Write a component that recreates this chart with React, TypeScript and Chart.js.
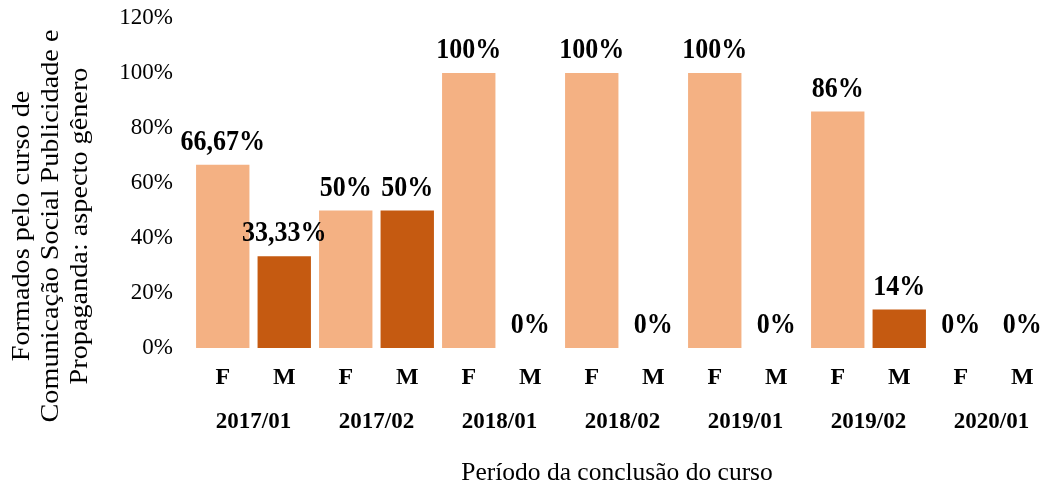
import React, { useEffect, useRef } from 'react';
import { Chart, registerables } from 'chart.js';

Chart.register(...registerables);

// ---- Data ----
const periods = ['2017/01', '2017/02', '2018/01', '2018/02', '2019/01', '2019/02', '2020/01'];
const sexLabels = ['F', 'M'];
const femaleValues = [66.67, 50, 100, 100, 100, 86, 0];
const maleValues = [33.33, 50, 0, 0, 0, 14, 0];
const yMin = 0;
const yMax = 120;
const yStep = 20;
const yTitleLines = [
  'Formados pelo curso de',
  'Comunicação Social Publicidade e',
  'Propaganda: aspecto gênero',
];
const xTitle = 'Período da conclusão do curso';

const FONT = '"Liberation Serif", "Times New Roman", serif';
const COLOR_F = '#F4B183';
const COLOR_M = '#C55A11';

const fmtPct = (v: number) =>
  (Number.isInteger(v) ? String(v) : v.toFixed(2).replace('.', ',')) + '%';

const noPad = (s: any) => {
  s.paddingTop = 0;
  s.paddingBottom = 0;
  s.paddingLeft = 0;
  s.paddingRight = 0;
};

export default function App() {
  const ref = useRef<HTMLCanvasElement>(null);

  useEffect(() => {
    const canvas = ref.current!;
    const sexTickLabels = periods.flatMap(() => sexLabels);

    const valueLabels = {
      id: 'valueLabels',
      afterDatasetsDraw(chart: any) {
        const ctx = chart.ctx as CanvasRenderingContext2D;
        ctx.save();
        ctx.font = `bold 26px ${FONT}`;
        ctx.fillStyle = '#000';
        ctx.textAlign = 'center';
        ctx.textBaseline = 'alphabetic';
        chart.data.datasets.forEach((ds: any, i: number) => {
          const meta = chart.getDatasetMeta(i);
          meta.data.forEach((el: any, j: number) => {
            const v = ds.data[j] as number;
            ctx.save();
            ctx.translate(el.x, el.y - 15);
            ctx.scale(1, 1.1);
            ctx.fillText(fmtPct(v), 0, 0);
            ctx.restore();
          });
        });
        ctx.restore();
      },
    };

    const axisTitles = {
      id: 'axisTitles',
      afterDraw(chart: any) {
        const ctx = chart.ctx as CanvasRenderingContext2D;
        ctx.save();
        ctx.fillStyle = '#000';
        ctx.font = `26px ${FONT}`;
        ctx.textAlign = 'center';
        ctx.textBaseline = 'middle';
        const sx = 393 / ctx.measureText(yTitleLines[1]).width;
        const xs = [22, 51, 80];
        yTitleLines.forEach((line, i) => {
          ctx.save();
          ctx.translate(xs[i], 226);
          ctx.rotate(-Math.PI / 2);
          ctx.scale(sx, 1);
          ctx.fillText(line, 0, 0);
          ctx.restore();
        });
        ctx.font = `25.5px ${FONT}`;
        ctx.textBaseline = 'alphabetic';
        ctx.fillText(xTitle, 617, 480);
        ctx.restore();
      },
    };

    const chart = new Chart(canvas, {
      type: 'bar',
      data: {
        labels: periods,
        datasets: [
          {
            label: 'F',
            data: femaleValues,
            backgroundColor: COLOR_F,
            borderWidth: 0,
            xAxisID: 'x',
            categoryPercentage: 1,
            barPercentage: 0.868,
          },
          {
            label: 'M',
            data: maleValues,
            backgroundColor: COLOR_M,
            borderWidth: 0,
            xAxisID: 'x',
            categoryPercentage: 1,
            barPercentage: 0.868,
          },
        ],
      },
      options: {
        responsive: false,
        animation: false,
        layout: { padding: { top: 18, right: 7, left: 0, bottom: 0 } },
        plugins: {
          legend: { display: false },
          tooltip: { enabled: false },
        },
        scales: {
          x: {
            type: 'category',
            axis: 'x',
            position: 'bottom',
            weight: 1,
            offset: true,
            grid: { display: false, drawTicks: false },
            border: { display: false },
            ticks: {
              font: { family: FONT, size: 23, weight: 'bold' },
              color: '#000',
              padding: 12,
              autoSkip: false,
              maxRotation: 0,
            },
            afterFit(s: any) {
              s.height = 93;
              noPad(s);
            },
          },
          xSex: {
            type: 'category',
            axis: 'x',
            labels: sexTickLabels,
            position: 'bottom',
            weight: 0,
            offset: true,
            grid: { display: false, drawTicks: false },
            border: { display: false },
            ticks: {
              font: { family: FONT, size: 24, weight: 'bold' },
              color: '#000',
              padding: 15,
              autoSkip: false,
              maxRotation: 0,
            },
            afterFit(s: any) {
              s.height = 48;
              noPad(s);
            },
          },
          y: {
            min: yMin,
            max: yMax,
            grid: { display: false, drawTicks: false },
            border: { display: false },
            ticks: {
              stepSize: yStep,
              callback: (v: any) => v + '%',
              font: { family: FONT, size: 23 },
              color: '#000',
              padding: 19,
            },
            afterFit(s: any) {
              s.width = 192;
              noPad(s);
            },
          },
        },
      } as any,
      plugins: [valueLabels, axisTitles],
    });

    return () => chart.destroy();
  }, []);

  return (
    <div
      style={{
        position: 'fixed',
        left: 0,
        top: 0,
        width: 1042,
        height: 489,
        overflow: 'hidden',
        background: '#fff',
      }}
    >
      <canvas ref={ref} width={1060} height={489} style={{ display: 'block' }} />
    </div>
  );
}
